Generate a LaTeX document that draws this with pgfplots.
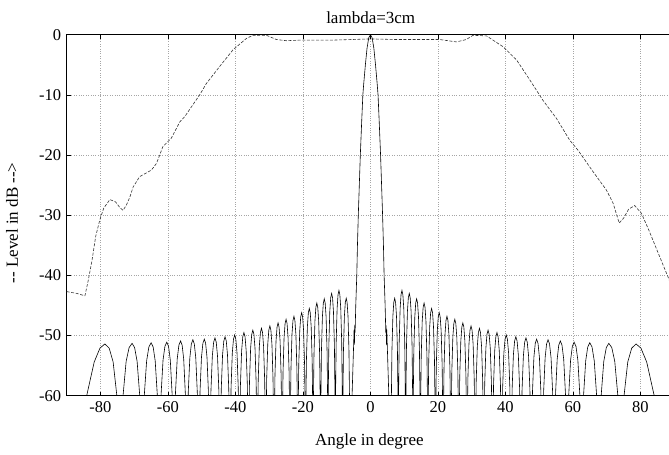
\documentclass[border=0pt]{standalone}
\usepackage{fontspec}
\setmainfont{Liberation Serif}
\usepackage{pgfplots}
\pgfplotsset{compat=1.18}
\begin{document}
\fontsize{16bp}{19bp}\selectfont
\begin{tikzpicture}
\useasboundingbox (-66.7bp,-59.3bp) rectangle (602.3bp,395.7bp);
\begin{axis}[
 at={(0,0)}, anchor=south west,
 scale only axis, width=607.5bp, height=361bp,
 xmin=-90, xmax=90, ymin=-60, ymax=0,
 xtick={-80,-60,...,80}, ytick={-60,-50,...,0},
 grid=major, major grid style={black!35, dotted, line width=0.6bp},
 axis line style={line width=0.7bp},
 tick style={black, line width=0.6bp},
 major tick length=4bp,
 /pgf/number format/assume math mode=true,
 ticklabel style={font=\fontsize{16.5bp}{19bp}\selectfont},
]
% element pattern (dashed)
\addplot[black!80, line width=0.6bp, dash pattern=on 3bp off 1.6bp] table {
x y
-90 -42.7
-87 -43.0
-84.6 -43.4
-83.6 -40.8
-82.5 -37.5
-81.4 -33.5
-80.2 -30.8
-79.0 -28.8
-77.2 -27.4
-75.5 -27.8
-74.3 -28.7
-73.3 -29.2
-72.3 -28.3
-71.3 -27.0
-70.3 -25.3
-68.4 -23.6
-64.9 -22.5
-63.4 -21.4
-61.5 -18.6
-59.0 -17.2
-56.5 -14.5
-55.0 -13.6
-50.6 -10.0
-48.6 -8.1
-44.7 -5.3
-40.7 -2.5
-36.7 -0.6
-34.8 -0.1
-30.8 -0.1
-27.9 -0.8
-24.9 -1.0
-20.9 -0.9
-11.1 -0.9
0 -0.7
7.7 -0.8
20.5 -0.8
25.5 -1.2
28.4 -0.8
30.4 -0.1
34.4 -0.2
39.3 -2.0
43.3 -4.2
47.2 -7.5
51.1 -10.9
55.1 -13.9
59.0 -17.5
61.5 -19.2
66.0 -22.8
69.9 -25.8
71.9 -28.0
73.7 -31.3
75.0 -30.5
76.5 -29.0
78.3 -28.4
80.3 -29.7
82.5 -32.5
85.7 -36.9
88.2 -40.3
90 -43.0
};
% array pattern (solid)
\addplot[black, line width=0.6bp] table {
x y
-90 -75
-87.71 -80
-85.82 -67.5
-84.12 -60.1
-81.85 -54.4
-80.15 -52.1
-78.70 -51.4
-77.41 -52.1
-76.24 -54.4
-75.12 -60.1
-74.55 -67.5
-74.150 -80
-73.798 -67.4
-73.305 -60.0
-72.390 -54.3
-71.510 -52.0
-70.630 -51.3
-69.883 -52.0
-69.135 -54.3
-68.358 -60.0
-67.939 -67.4
-67.640 -80
-67.375 -67.3
-67.004 -59.9
-66.315 -54.2
-65.653 -51.9
-64.990 -51.2
-64.385 -51.9
-63.780 -54.2
-63.151 -59.9
-62.812 -67.3
-62.570 -80
-62.347 -67.2
-62.036 -59.8
-61.457 -54.1
-60.900 -51.8
-60.343 -51.1
-59.821 -51.8
-59.300 -54.1
-58.757 -59.8
-58.465 -67.2
-58.256 -80
-58.056 -67.0
-57.776 -59.6
-57.257 -53.9
-56.757 -51.6
-56.257 -50.9
-55.795 -51.6
-55.334 -53.9
-54.853 -59.6
-54.595 -67.0
-54.410 -80
-54.231 -66.8
-53.980 -59.4
-53.514 -53.7
-53.066 -51.4
-52.618 -50.7
-52.187 -51.4
-51.757 -53.7
-51.309 -59.4
-51.067 -66.8
-50.895 -80
-50.729 -66.7
-50.497 -59.3
-50.065 -53.6
-49.650 -51.3
-49.235 -50.6
-48.834 -51.3
-48.432 -53.6
-48.014 -59.3
-47.790 -66.7
-47.629 -80
-47.473 -66.5
-47.255 -59.1
-46.850 -53.4
-46.461 -51.1
-46.071 -50.4
-45.692 -51.1
-45.314 -53.4
-44.920 -59.1
-44.708 -66.5
-44.556 -80
-44.408 -66.3
-44.202 -58.9
-43.818 -53.2
-43.448 -50.9
-43.079 -50.2
-42.718 -50.9
-42.358 -53.2
-41.982 -58.9
-41.780 -66.3
-41.636 -80
-41.495 -66.0
-41.298 -58.6
-40.931 -52.9
-40.579 -50.6
-40.226 -49.9
-39.881 -50.6
-39.535 -52.9
-39.176 -58.6
-38.982 -66.0
-38.844 -80
-38.708 -65.6
-38.519 -58.2
-38.166 -52.5
-37.827 -50.2
-37.488 -49.5
-37.155 -50.2
-36.823 -52.5
-36.476 -58.2
-36.290 -65.6
-36.157 -80
-36.026 -65.2
-35.843 -57.8
-35.503 -52.1
-35.175 -49.8
-34.848 -49.1
-34.526 -49.8
-34.204 -52.1
-33.868 -57.8
-33.688 -65.2
-33.559 -80
-33.432 -64.9
-33.254 -57.5
-32.925 -51.8
-32.607 -49.5
-32.290 -48.8
-31.977 -49.5
-31.664 -51.8
-31.338 -57.5
-31.162 -64.9
-31.037 -80
-30.914 -64.5
-30.741 -57.1
-30.420 -51.4
-30.111 -49.1
-29.802 -48.4
-29.497 -49.1
-29.192 -51.4
-28.874 -57.1
-28.703 -64.5
-28.581 -80
-28.460 -64.0
-28.291 -56.6
-27.978 -50.9
-27.676 -48.6
-27.374 -47.9
-27.076 -48.6
-26.777 -50.9
-26.467 -56.6
-26.299 -64.0
-26.180 -80
-26.062 -63.4
-25.897 -56.0
-25.590 -50.3
-25.295 -48.0
-25.000 -47.3
-24.707 -48.0
-24.414 -50.3
-24.109 -56.0
-23.945 -63.4
-23.828 -80
-23.712 -62.9
-23.550 -55.5
-23.248 -49.8
-22.958 -47.5
-22.668 -46.8
-22.381 -47.5
-22.094 -49.8
-21.795 -55.5
-21.634 -62.9
-21.519 -80
-21.405 -62.3
-21.245 -54.9
-20.948 -49.2
-20.663 -46.9
-20.377 -46.2
-20.094 -46.9
-19.811 -49.2
-19.517 -54.9
-19.358 -62.3
-19.245 -80
-19.132 -61.6
-18.975 -54.2
-18.682 -48.5
-18.401 -46.2
-18.119 -45.5
-17.840 -46.2
-17.560 -48.5
-17.269 -54.2
-17.113 -61.6
-17.001 -80
-16.890 -60.7
-16.735 -53.3
-16.446 -47.6
-16.169 -45.3
-15.891 -44.6
-15.615 -45.3
-15.338 -47.6
-15.050 -53.3
-14.896 -60.7
-14.785 -80
-14.675 -60.0
-14.521 -52.6
-14.236 -46.9
-13.961 -44.6
-13.686 -43.9
-13.412 -44.6
-13.139 -46.9
-12.854 -52.6
-12.701 -60.0
-12.591 -80
-12.482 -59.1
-12.330 -51.7
-12.047 -46.0
-11.774 -43.7
-11.502 -43.0
-11.231 -43.7
-10.959 -46.0
-10.677 -51.7
-10.525 -59.1
-10.416 -80
-10.308 -58.6
-10.157 -51.2
-9.876 -45.5
-9.605 -43.2
-9.335 -42.5
-9.065 -43.2
-8.796 -45.5
-8.515 -51.2
-8.364 -58.6
-8.256 -80
-8.149 -59.9
-7.998 -52.5
-7.719 -46.8
-7.450 -44.5
-7.181 -43.8
-6.913 -44.5
-6.645 -46.8
-6.366 -52.5
-6.215 -59.9
-6.108 -80
-5.8 -80
-5.5 -61
-5.2 -55.5
-4.95 -51.0
-4.85 -49.0
-4.75 -51.5
-4.65 -48.3
-4.55 -49.5
-4.35 -45
-4.05 -40
-3.85 -35
-3.6 -30
-3.3 -25
-3.0 -20
-2.6 -14.5
-2.25 -10
-2.0 -8.2
-1.5 -5.0
-1.0 -2.2
-0.5 -0.5
0 0
0.5 -0.5
1.0 -2.2
1.5 -5.0
2.0 -8.2
2.25 -10
2.6 -14.5
3.0 -20
3.3 -25
3.6 -30
3.85 -35
4.05 -40
4.35 -45
4.55 -49.5
4.65 -48.3
4.75 -51.5
4.85 -49.0
4.95 -51.0
5.2 -55.5
5.5 -61
5.8 -80
6.108 -80
6.215 -59.9
6.366 -52.5
6.645 -46.8
6.913 -44.5
7.181 -43.8
7.450 -44.5
7.719 -46.8
7.998 -52.5
8.149 -59.9
8.256 -80
8.364 -58.6
8.515 -51.2
8.796 -45.5
9.065 -43.2
9.335 -42.5
9.605 -43.2
9.876 -45.5
10.157 -51.2
10.308 -58.6
10.416 -80
10.525 -59.1
10.677 -51.7
10.959 -46.0
11.231 -43.7
11.502 -43.0
11.774 -43.7
12.047 -46.0
12.330 -51.7
12.482 -59.1
12.591 -80
12.701 -60.0
12.854 -52.6
13.139 -46.9
13.412 -44.6
13.686 -43.9
13.961 -44.6
14.236 -46.9
14.521 -52.6
14.675 -60.0
14.785 -80
14.896 -60.7
15.050 -53.3
15.338 -47.6
15.615 -45.3
15.891 -44.6
16.169 -45.3
16.446 -47.6
16.735 -53.3
16.890 -60.7
17.001 -80
17.113 -61.6
17.269 -54.2
17.560 -48.5
17.840 -46.2
18.119 -45.5
18.401 -46.2
18.682 -48.5
18.975 -54.2
19.132 -61.6
19.245 -80
19.358 -62.3
19.517 -54.9
19.811 -49.2
20.094 -46.9
20.377 -46.2
20.663 -46.9
20.948 -49.2
21.245 -54.9
21.405 -62.3
21.519 -80
21.634 -62.9
21.795 -55.5
22.094 -49.8
22.381 -47.5
22.668 -46.8
22.958 -47.5
23.248 -49.8
23.550 -55.5
23.712 -62.9
23.828 -80
23.945 -63.4
24.109 -56.0
24.414 -50.3
24.707 -48.0
25.000 -47.3
25.295 -48.0
25.590 -50.3
25.897 -56.0
26.062 -63.4
26.180 -80
26.299 -64.0
26.467 -56.6
26.777 -50.9
27.076 -48.6
27.374 -47.9
27.676 -48.6
27.978 -50.9
28.291 -56.6
28.460 -64.0
28.581 -80
28.703 -64.5
28.874 -57.1
29.192 -51.4
29.497 -49.1
29.802 -48.4
30.111 -49.1
30.420 -51.4
30.741 -57.1
30.914 -64.5
31.037 -80
31.162 -64.9
31.338 -57.5
31.664 -51.8
31.977 -49.5
32.290 -48.8
32.607 -49.5
32.925 -51.8
33.254 -57.5
33.432 -64.9
33.559 -80
33.688 -65.2
33.868 -57.8
34.204 -52.1
34.526 -49.8
34.848 -49.1
35.175 -49.8
35.503 -52.1
35.843 -57.8
36.026 -65.2
36.157 -80
36.290 -65.6
36.476 -58.2
36.823 -52.5
37.155 -50.2
37.488 -49.5
37.827 -50.2
38.166 -52.5
38.519 -58.2
38.708 -65.6
38.844 -80
38.982 -66.0
39.176 -58.6
39.535 -52.9
39.881 -50.6
40.226 -49.9
40.579 -50.6
40.931 -52.9
41.298 -58.6
41.495 -66.0
41.636 -80
41.780 -66.3
41.982 -58.9
42.358 -53.2
42.718 -50.9
43.079 -50.2
43.448 -50.9
43.818 -53.2
44.202 -58.9
44.408 -66.3
44.556 -80
44.708 -66.5
44.920 -59.1
45.314 -53.4
45.692 -51.1
46.071 -50.4
46.461 -51.1
46.850 -53.4
47.255 -59.1
47.473 -66.5
47.629 -80
47.790 -66.7
48.014 -59.3
48.432 -53.6
48.834 -51.3
49.235 -50.6
49.650 -51.3
50.065 -53.6
50.497 -59.3
50.729 -66.7
50.895 -80
51.067 -66.8
51.309 -59.4
51.757 -53.7
52.187 -51.4
52.618 -50.7
53.066 -51.4
53.514 -53.7
53.980 -59.4
54.231 -66.8
54.410 -80
54.595 -67.0
54.853 -59.6
55.334 -53.9
55.795 -51.6
56.257 -50.9
56.757 -51.6
57.257 -53.9
57.776 -59.6
58.056 -67.0
58.256 -80
58.465 -67.2
58.757 -59.8
59.300 -54.1
59.821 -51.8
60.343 -51.1
60.900 -51.8
61.457 -54.1
62.036 -59.8
62.347 -67.2
62.570 -80
62.812 -67.3
63.151 -59.9
63.780 -54.2
64.385 -51.9
64.990 -51.2
65.653 -51.9
66.315 -54.2
67.004 -59.9
67.375 -67.3
67.640 -80
67.939 -67.4
68.358 -60.0
69.135 -54.3
69.883 -52.0
70.630 -51.3
71.510 -52.0
72.390 -54.3
73.305 -60.0
73.798 -67.4
74.150 -80
74.55 -67.5
75.12 -60.1
76.24 -54.4
77.41 -52.1
78.70 -51.4
80.15 -52.1
81.85 -54.4
84.12 -60.1
85.82 -67.5
87.71 -80
90 -75
};
\end{axis}
\begin{scope}[every node/.style={font=\fontsize{17bp}{20bp}\selectfont}]
\node[anchor=base] at (304bp,372.4bp) {lambda=3cm};
\node[anchor=base] at (302.7bp,-49.3bp) {Angle in degree};
\node[rotate=90] at (-54.7bp,172.7bp) {-\kern0pt- Level in dB -\kern0pt->};
\end{scope}
\end{tikzpicture}
\end{document}
